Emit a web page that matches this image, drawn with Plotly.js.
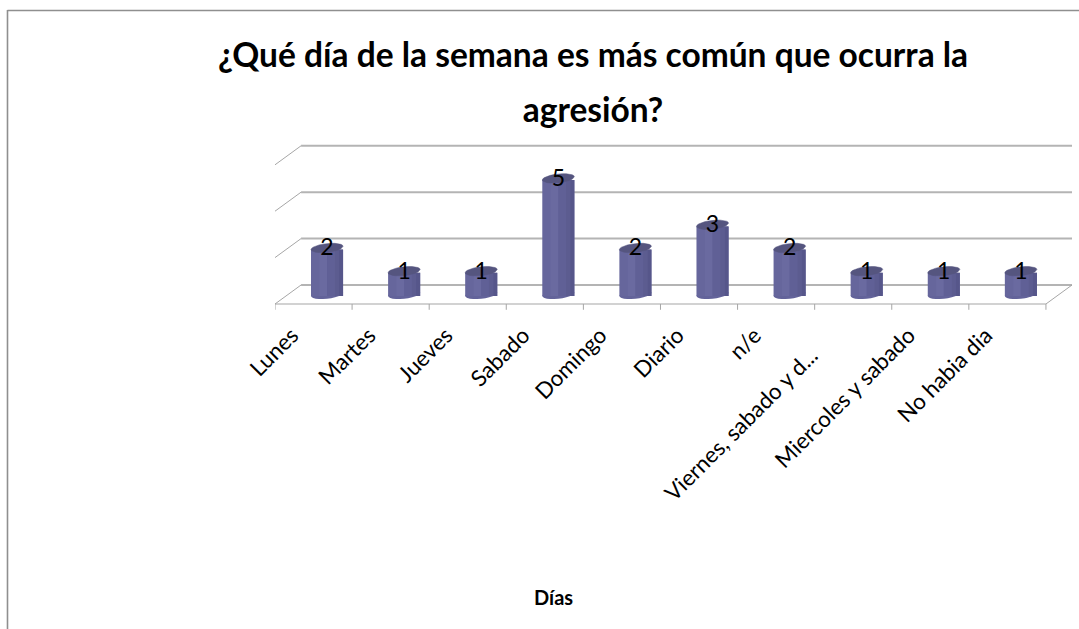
<!DOCTYPE html>
<html><head><meta charset="utf-8">
<script src="https://cdn.plot.ly/plotly-3.0.1.min.js"></script>
<style>html,body{margin:0;padding:0;background:#fff}#c{width:1079px;height:629px}</style>
</head><body><div id="c"></div>
<script>
const categories = ["Lunes","Martes","Jueves","Sabado","Domingo","Diario","n/e","Viernes, sabado y d...","Miercoles y sabado","No habia dia"];
const values = [2,1,1,5,2,3,2,1,1,1];
const chartTitle = "¿Qué día de la semana es más común que ocurra la<br>agresión?";
const axisTitle = "Días";
const gridValues = [2,4,6];
const positions = categories.map((c,i)=>i);

// plot area in page pixels
const PL=275, PT=144, PW=797, PH=167;
const px=x=>(x-PL)/PW, py=y=>(PT+PH-y)/PH;

// 3-D look: depth offsets in axis units
const depthX = 0.338, frontY = -0.345, backY = 0.474, xL = -0.675;
const xR = categories.length - 1 + 0.325;
const gridColor = "#b4b4b4", edgeColor = "#a6a6a6", frameColor = "#8f8f8f";
const line = (x0,y0,x1,y1,color,width) => ({type:"line",xref:"x",yref:"y",x0,y0,x1,y1,layer:"below",line:{color,width}});

const ell = (i,v,a,b,k) => {
  const xs=[],ys=[];
  for(let s=0;s<=24;s++){const t=s/24*2*Math.PI;xs.push(i+a*Math.cos(t));ys.push(v+k+b*Math.sin(t)+k*Math.cos(t));}
  return [xs,ys];
};
const A=0.208,B=0.19,K=0.07;

const shapes=[];
[0].concat(gridValues).forEach(v=>{
  shapes.push(line(xL,v+frontY,xL+depthX,v+backY,edgeColor,1));
  shapes.push(line(xL+depthX,v+backY,xR+depthX,v+backY,gridColor,2));
});
shapes.push(line(xL,frontY,xR,frontY,edgeColor,1.2));
shapes.push(line(xR,frontY,xR+depthX,backY,edgeColor,1));
for(let i=0;i<=categories.length;i++){shapes.push(line(xL+i,frontY,xL+i,frontY-0.25,edgeColor,1));}
// rounded feet of the bars
values.forEach((v,i)=>{
  const [xs,ys]=ell(i,0,A,B,K);
  shapes.push({type:"path",xref:"x",yref:"y",layer:"below",path:"M"+xs.map((x,j)=>x+","+ys[j]).join("L")+"Z",fillcolor:"#63639a",line:{width:0}});
});
// frame
shapes.push({type:"line",xref:"paper",yref:"paper",x0:px(7.5),x1:px(1079),y0:py(10.5),y1:py(10.5),line:{color:frameColor,width:1.6}});
shapes.push({type:"line",xref:"paper",yref:"paper",x0:px(7.5),x1:px(7.5),y0:py(629),y1:py(10),line:{color:frameColor,width:1.6}});

const strip=(off,w,color,name)=>({type:"bar",x:positions,y:values,width:w,offset:off,marker:{color,line:{width:0}},hoverinfo:"skip",showlegend:false,name});
const facets=[
  strip(-0.208,0.416,"#66669c","body"),
  strip(-0.10,0.10,"#6a6aa0","f1"),
  strip(0.0,0.10,"#606096","f2"),
  strip(0.10,0.055,"#5c5c90","f3"),
  strip(0.155,0.053,"#56568a","f4")
];
const tx=[],ty=[];
values.forEach((v,i)=>{const [xs,ys]=ell(i,v,A,B,K);tx.push(...xs,null);ty.push(...ys,null);});
const tops={type:"scatter",mode:"lines",x:tx,y:ty,fill:"toself",fillcolor:"#55557f",line:{width:0.5,color:"#55557f"},hoverinfo:"skip",showlegend:false,name:"tops"};
const labels={type:"scatter",mode:"text",x:positions,y:values,text:values.map(String),textposition:"middle center",textfont:{family:"Lato, sans-serif",size:23,color:"#000"},hoverinfo:"skip",showlegend:false,name:"labels",cliponaxis:false};

const tickText=categories.map(c=>c.endsWith("...")?c+"\u00a0\u00a0\u00a0\u00a0\u00a0":c);
const layout={
  width:1079,height:629,
  margin:{l:PL,r:1079-PL-PW,t:PT,b:629-PT-PH,pad:0},
  paper_bgcolor:"#fff",plot_bgcolor:"rgba(0,0,0,0)",
  barmode:"overlay",showlegend:false,
  font:{family:"Lato, sans-serif",color:"#000"},
  title:{text:chartTitle.split("<br>").map(s=>'<span style="font-size:33.5px">'+s+'</span>').join("<br>"),
         font:{family:"Lato, sans-serif",size:42,color:"#000",weight:700},
         x:593/1079,xref:"container",xanchor:"center",y:1-67/629,yref:"container",yanchor:"top"},
  xaxis:{type:"linear",range:[xL,xR+depthX],
         showgrid:false,zeroline:false,showline:false,ticks:"",tickangle:-45,tickfont:{family:"Lato, sans-serif",size:22.4,color:"#000"},automargin:false,tickmode:"array",tickvals:positions,ticktext:tickText,ticklabelshift:-35,ticklabelstandoff:6},
  yaxis:{range:[-0.647,6.552],showgrid:false,zeroline:false,showline:false,showticklabels:false,ticks:"",automargin:false},
  shapes,
  annotations:[{text:"<b>"+axisTitle+"</b>",xref:"paper",yref:"paper",x:px(553),y:py(597),xanchor:"center",yanchor:"middle",showarrow:false,font:{family:"Lato, sans-serif",size:20,color:"#000"}}]
};
Plotly.newPlot("c",[...facets,tops,labels],layout,{displayModeBar:false,responsive:false});
</script></body></html>
